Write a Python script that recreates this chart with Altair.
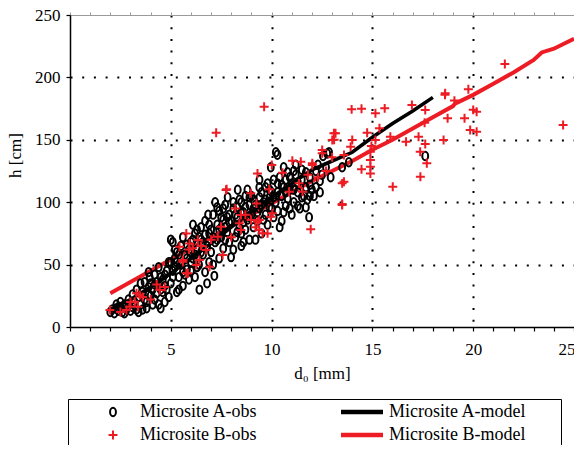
import altair as alt
import pandas as pd

FONT = "'Liberation Serif', 'DejaVu Serif', serif"
RED = "#ED1C24"

series_order = ["Microsite A-obs", "Microsite B-obs", "Microsite A-model", "Microsite B-model"]
series_colors = ["#000000", RED, "#000000", RED]

site_a_obs = [
    (2.0, 12), (2.1, 14), (2.2, 11), (2.3, 15), (2.4, 13), (2.5, 16), (2.6, 12), (2.7, 18), (2.8, 14),
    (2.9, 17), (3.0, 13), (2.5, 20), (2.9, 22), (2.3, 18), (2.7, 11),
    (3.1, 16), (3.2, 20), (3.3, 14), (3.4, 24), (3.5, 18), (3.6, 28), (3.7, 22), (3.8, 15), (3.9, 32),
    (3.9, 44), (3.95, 40), (3.5, 35), (3.3, 30), (3.7, 36), (3.1, 26), (3.8, 20), (3.4, 12), (3.6, 14),
    (4.0, 25), (4.1, 30), (4.2, 22), (4.3, 36), (4.4, 18), (4.5, 40), (4.6, 28), (4.7, 33), (4.8, 45),
    (4.9, 24), (4.2, 42), (4.4, 48), (4.6, 38), (4.8, 30), (4.9, 52), (4.1, 18), (4.7, 20), (4.5, 15),
    (4.3, 27), (4.0, 35), (4.5, 30), (4.7, 42), (3.9, 26), (4.2, 34),
    (5.0, 70), (5.1, 68), (5.0, 35), (5.1, 45), (5.2, 55), (5.3, 28), (5.3, 60), (5.4, 40), (5.5, 50),
    (5.5, 65), (5.6, 33), (5.7, 58), (5.8, 46), (5.9, 62), (5.9, 38), (5.2, 48), (5.6, 72), (5.4, 30),
    (5.8, 55), (5.1, 40), (5.7, 42), (5.3, 52), (5.0, 52), (5.2, 62), (5.4, 58), (5.6, 44), (5.8, 66),
    (6.0, 45), (6.0, 68), (6.1, 55), (6.2, 75), (6.2, 40), (6.3, 62), (6.42, 30), (6.4, 50), (6.5, 70),
    (6.5, 80), (6.6, 58), (6.7, 44), (6.7, 85), (6.8, 65), (6.9, 75), (6.9, 52), (6.1, 82), (6.3, 48),
    (6.6, 68), (6.8, 35), (6.0, 60), (6.4, 72), (6.85, 90), (6.1, 70), (6.3, 78), (6.5, 60), (6.7, 74),
    (6.9, 82), (6.2, 58), (6.0, 52),
    (7.0, 60), (7.0, 78), (7.1, 90), (7.2, 68), (7.16, 41), (7.3, 82), (7.4, 93), (7.4, 55), (7.5, 72),
    (7.6, 86), (7.6, 63), (7.7, 98), (7.82, 104), (7.8, 76), (7.9, 68), (7.99, 56), (7.1, 50), (7.3, 70),
    (7.5, 88), (7.9, 90), (7.7, 80), (7.2, 100), (7.4, 78), (7.6, 95), (7.1, 72), (7.3, 96), (7.5, 80),
    (7.7, 70), (7.9, 84), (7.8, 88),
    (8.0, 85), (8.1, 95), (8.2, 72), (8.32, 110), (8.3, 88), (8.4, 80), (8.5, 100), (8.5, 65), (8.6, 92),
    (8.7, 78), (8.7, 105), (8.8, 86), (8.9, 98), (8.9, 70), (8.1, 62), (8.4, 102), (8.6, 84), (8.8, 110),
    (8.2, 90), (8.5, 75), (8.3, 96), (8.9, 88), (8.1, 100), (8.3, 76), (8.5, 92), (8.7, 96), (8.9, 104),
    (8.6, 68),
    (9.0, 90), (9.0, 105), (9.1, 80), (9.2, 98), (9.39, 112), (9.3, 85), (9.4, 95), (9.5, 108), (9.5, 75),
    (9.6, 100), (9.7, 90), (9.8, 115), (9.8, 82), (9.9, 104), (9.96, 128), (10.0, 95), (9.2, 70),
    (9.4, 118), (9.6, 86), (9.9, 110), (9.1, 95), (9.7, 102), (9.1, 102), (9.3, 92), (9.5, 98),
    (9.7, 112), (9.9, 96), (9.4, 104),
    (10.0, 108), (10.1, 88), (10.21, 140), (10.2, 100), (10.3, 115), (10.3, 93), (10.4, 120), (10.5, 105),
    (10.5, 85), (10.6, 112), (10.7, 97), (10.79, 124), (10.8, 103), (10.9, 110), (10.1, 118), (10.4, 80),
    (10.6, 128), (10.9, 95), (10.29, 138), (10.7, 118), (10.1, 104), (10.3, 108), (10.5, 114),
    (10.7, 108), (10.9, 120), (10.6, 92),
    (11.0, 115), (11.1, 100), (11.2, 122), (11.3, 108), (11.4, 95), (11.5, 118), (11.5, 126), (11.6, 105),
    (11.7, 112), (11.77, 102), (11.86, 88), (11.9, 120), (12.0, 110), (11.2, 130), (11.7, 124), (11.0, 90),
    (11.3, 97), (11.9, 105), (11.1, 110), (11.3, 116), (11.5, 104), (11.7, 96), (11.9, 114), (11.1, 125),
    (12.1, 105), (12.2, 125), (12.3, 130), (12.4, 117), (12.55, 137), (12.76, 139), (12.85, 140),
    (12.93, 120), (13.5, 128), (13.83, 132), (17.62, 137), (12.2, 112), (12.5, 122), (12.7, 128),
    (12.4, 108),
]

site_b_obs = [
    (1.98, 13.6), (2.8, 13.6), (2.96, 16.3), (3.21, 20.3), (3.46, 25.6), (3.6, 24), (3.37, 16.3),
    (2.5, 12), (3.0, 20), (3.3, 27), (4.45, 29.6), (4.0, 22), (4.3, 34), (4.7, 32),
    (5.43, 64.3), (5.6, 52.3), (5.85, 43), (5.93, 67), (6.26, 49.7), (5.77, 75), (6.34, 69.7),
    (6.75, 61.7), (6.09, 63.1), (5.9, 62), (5.6, 53.7), (6.92, 48.3), (7.57, 57.7), (6.42, 53.7),
    (5.77, 43), (7.33, 72.4), (7.49, 80.4), (7.77, 110.3), (7.25, 155.7), (9.63, 176.5), (9.3, 123),
    (9.25, 99), (8.48, 89.7), (8.98, 85.7), (9.3, 84.4), (8.4, 83.1), (8.48, 77.7), (9.39, 77.7),
    (9.8, 75), (9.96, 88.4), (10.01, 129.8), (11.03, 133.3), (11.45, 132.5), (10.54, 123.6),
    (12.02, 129.8), (13.17, 155.2), (13.1, 150), (14.0, 149.8), (12.51, 139.2), (13.59, 116.4),
    (13.5, 97.8), (11.94, 78.3), (11.36, 115.1), (11.53, 108.4), (10.87, 108.4), (9.88, 110.3),
    (10.04, 91.1), (9.39, 85.7), (9.2, 80), (9.55, 75.1), (8.97, 107.1), (7.74, 109.8), (8.0, 72),
    (8.2, 95), (8.7, 90), (7.0, 70), (6.5, 65),
    (21.57, 210.7), (24.46, 161.9), (19.76, 190.5), (18.61, 187.3), (19.07, 181.4), (20.17, 172.5),
    (19.57, 167.2), (18.73, 167.2), (19.85, 157.9), (20.17, 156.5), (18.53, 149.8), (17.62, 173.9),
    (16.96, 177.9), (17.59, 163.7), (17.29, 152.5), (17.62, 146.6), (17.37, 140.5), (17.7, 131.2),
    (17.38, 120.4), (16.67, 148.5), (16.01, 112.4), (13.97, 174.4), (14.46, 174.9), (15.61, 175.2),
    (15.15, 171.2), (15.35, 159.2), (14.74, 155.7), (15.15, 149.8), (15.89, 152.5), (14.9, 140.5),
    (14.9, 133.8), (14.9, 128.5), (14.9, 123), (14.46, 126.4), (13.5, 115.1), (13.5, 98.6),
    (13.09, 155.2), (13.01, 149.8), (13.92, 144.5), (12.51, 141.8), (12.02, 131.2), (13.59, 137.8),
    (13.0, 136), (12.3, 120), (12.7, 125), (11.8, 122), (18.6, 186), (20.0, 174), (14.95, 145),
]

model_a_d = [2, 3, 4, 5, 6, 7, 8, 9, 10, 11, 12, 13, 14, 15, 16, 17, 18]
model_a_h = [14, 22, 32, 43, 55, 67, 80, 93, 104, 115, 126, 133, 140, 152, 163, 173, 184]

model_b_d = [2, 3, 4, 5, 6, 7, 8, 9, 10, 11, 12, 13, 14, 15, 16, 17, 18, 19, 19.1, 20, 21, 22, 23,
             23.4, 24, 25]
model_b_h = [27, 36, 45, 54, 63, 72, 81, 90, 99, 108, 117, 125, 133, 142, 150, 159, 168, 177, 179,
             186, 195, 204, 214, 220, 223, 231]

obs = pd.DataFrame(
    [{"d": d, "h": h, "series": "Microsite A-obs"} for d, h in site_a_obs]
    + [{"d": d, "h": h, "series": "Microsite B-obs"} for d, h in site_b_obs]
)
model_a = pd.DataFrame({"d": model_a_d, "h": model_a_h})
model_b = pd.DataFrame({"d": model_b_d, "h": model_b_h})

ellipse = "M0,-1A0.7,1,0,1,1,0,1A0.7,1,0,1,1,0,-1Z"
plus = "M-1,0H1M0,-1V1"

x_scale = alt.Scale(domain=[0, 25], nice=False, zero=False)
y_scale = alt.Scale(domain=[0, 250], nice=False)

x_main = alt.Axis(
    orient="bottom", values=list(range(26)),
    labelExpr="datum.value % 5 === 0 ? datum.label : ''",
    labelOverlap=False, labelFlush=False,
    labelAlign=alt.condition("datum.value === 25", alt.value("right"), alt.value("center")),
    labelOffset=alt.condition("datum.value === 25", alt.value(1), alt.value(0)),
    tickSize=4, tickColor="black", tickWidth=1.2,
    domainColor="black", domainWidth=1.5,
    grid=True, gridColor="black", gridDash=[2, 9.7], gridWidth=2,
    gridOpacity=alt.condition("datum.value % 5 === 0 && datum.value > 0 && datum.value < 25",
                              alt.value(1), alt.value(0)),
    labelFont=FONT, labelFontSize=17, labelColor="black", labelPadding=10,
    title="d₀ [mm]", titleFont=FONT, titleFontSize=17, titleFontWeight="normal",
    titleColor="black", titlePadding=8,
)
y_main = alt.Axis(
    orient="left", values=[0, 50, 100, 150, 200, 250],
    labelOverlap=False, labelFlush=False,
    tickSize=4, tickColor="black", tickWidth=1.2,
    domainColor="black", domainWidth=1.5,
    grid=True, gridColor="black", gridDash=[2, 9.7], gridWidth=2,
    gridOpacity=alt.condition("datum.value > 0 && datum.value < 250", alt.value(1), alt.value(0)),
    labelFont=FONT, labelFontSize=17, labelColor="black", labelPadding=6,
    title="h [cm]", titleFont=FONT, titleFontSize=17, titleFontWeight="normal",
    titleColor="black", titleX=-46, titleY=140,
)
x_top = alt.Axis(orient="top", values=list(range(26)), labels=False, tickSize=3,
                 tickColor="#9a9a9a", domainColor="#9a9a9a", grid=False, title=None)
y_right = alt.Axis(orient="right", values=list(range(0, 251, 10)), labels=False, tickSize=3,
                   tickColor="#9a9a9a", domainColor="#9a9a9a", grid=False, title=None)

line_b = alt.Chart(model_b).mark_line(strokeWidth=4, color=RED).encode(
    x=alt.X("d:Q", scale=x_scale, axis=x_top),
    y=alt.Y("h:Q", scale=y_scale, axis=y_right),
)
line_a = alt.Chart(model_a).mark_line(strokeWidth=3.6, color="black").encode(
    x=alt.X("d:Q", scale=x_scale, axis=None),
    y=alt.Y("h:Q", scale=y_scale, axis=None),
)

points = alt.Chart(obs).mark_point(filled=False, opacity=1).encode(
    x=alt.X("d:Q", scale=x_scale, axis=x_main),
    y=alt.Y("h:Q", scale=y_scale, axis=y_main),
    color=alt.Color(
        "series:N", scale=alt.Scale(domain=series_order, range=series_colors),
        legend=alt.Legend(
            orient="none", legendX=-2, legendY=384, columns=2,
            title=".", titleOrient="right", titlePadding=24, titleFontSize=18,
            titleColor="transparent",
            strokeColor="black", padding=5, clipHeight=16,
            symbolOffset=16.5, labelOffset=3.5, columnPadding=64, rowPadding=5,
            labelFont=FONT, labelFontSize=18, labelColor="black",
        ),
    ),
    shape=alt.Shape("series:N", scale=alt.Scale(domain=series_order,
                                                range=[ellipse, plus, "stroke", "stroke"])),
    size=alt.Size("series:N", scale=alt.Scale(type="ordinal", domain=series_order,
                                              range=[70, 80, 1764, 1764])),
    strokeWidth=alt.StrokeWidth("series:N", scale=alt.Scale(type="ordinal", domain=series_order,
                                                            range=[2, 2, 4.5, 4.5])),
)

chart = alt.layer(line_b, line_a, points).resolve_axis(
    x="independent", y="independent"
).properties(
    width=504, height=312,
    autosize=alt.AutoSizeParams(type="none"),
    padding={"left": 62, "top": 7, "right": 0, "bottom": 118},
).configure_view(stroke=None)

chart.save("out.html", embed_options={"renderer": "svg", "actions": False})
